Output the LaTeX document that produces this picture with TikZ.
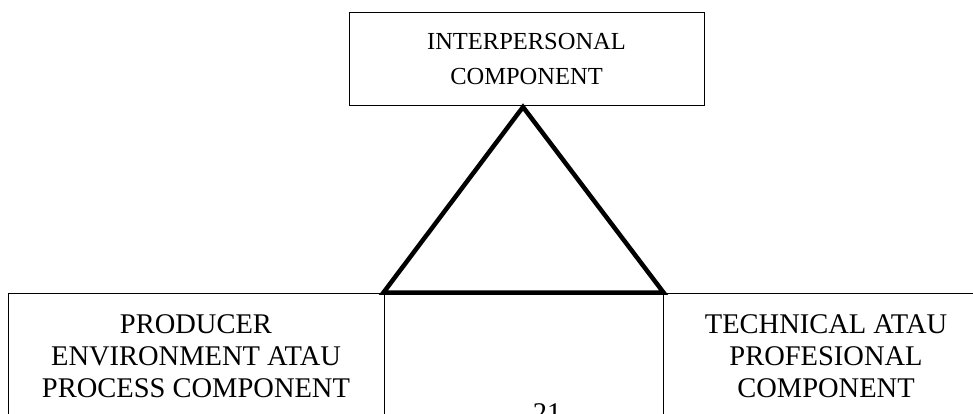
\documentclass[tikz,border=0pt]{standalone}
\usepackage{fontspec}
\setmainfont{Liberation Serif}
\usepackage{tikz}

\begin{document}
\begin{tikzpicture}[x=1pt,y=-1pt,
      box/.style={rectangle,draw,line width=1pt,inner sep=0pt,align=center},
      big/.style={font=\fontsize{28.5}{32}\selectfont},
      small/.style={font=\fontsize{24.5}{35}\selectfont},
      tri/.style={draw,line width=4.5pt,line join=miter}]
      \useasboundingbox (0,0) rectangle (973,414);

      \node[box,small,minimum width=355pt,minimum height=93pt] (ip) at ( 526.5,  59.5) {INTERPERSONAL\\COMPONENT};

      \node[box,big,minimum width=376pt,minimum height=127pt] (pe) at ( 196,  356.5) {PRODUCER\\ENVIRONMENT ATAU\\PROCESS COMPONENT};
      \node[box,minimum width=279pt,minimum height=127pt] (mid) at ( 523.5,  356.5) {};
      \node[box,big,minimum width=326pt,minimum height=127pt] (tp) at ( 826,  356.5) {TECHNICAL ATAU\\PROFESIONAL\\COMPONENT};

      \node[big,anchor=base] (pg) at ( 547,  422) {21};

      % segitiga
      \coordinate (apex) at ( 523,  107);
      \path[tri] (apex) -- (mid.north east) -- (mid.north west) -- cycle;
\end{tikzpicture}
\end{document}
